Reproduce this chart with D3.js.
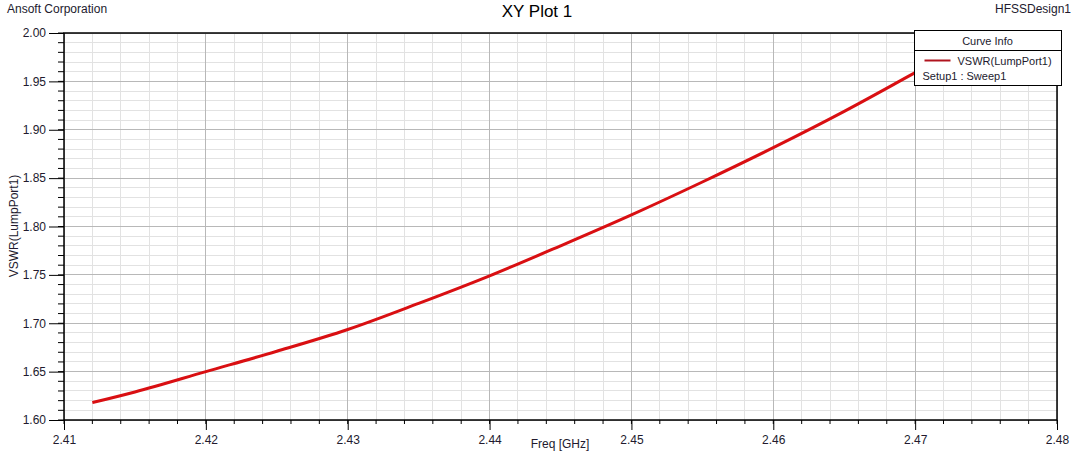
<!DOCTYPE html>
<html>
<head>
<meta charset="utf-8">
<script src="https://cdn.jsdelivr.net/npm/d3@7"></script>
<style>
  body { margin: 0; background: #fff; }
  svg { display: block; font-family: "Liberation Sans", Arial, sans-serif; }
</style>
</head>
<body>
<div id="chart"></div>
<script>
const width = 1080
const height = 457
const margin = { top: 33, right: 23, bottom: 37, left: 64 }

// data
const freq = [2.412, 2.415, 2.42, 2.425, 2.43, 2.435, 2.44, 2.445, 2.45, 2.455, 2.46, 2.465, 2.47, 2.472]
const vswr = [1.618, 1.629, 1.650, 1.671, 1.6935, 1.7205, 1.749, 1.780, 1.812, 1.846, 1.8815, 1.919, 1.959, 1.975]
const xTicks = [2.41, 2.42, 2.43, 2.44, 2.45, 2.46, 2.47, 2.48]
const yTicks = [1.60, 1.65, 1.70, 1.75, 1.80, 1.85, 1.90, 1.95, 2.00]

const svg = d3.select("#chart").append("svg").attr("width", width).attr("height", height)
const iW = width - margin.left - margin.right
const iH = height - margin.top - margin.bottom

const x = d3.scaleLinear().domain([2.41, 2.48]).range([margin.left, margin.left + iW])
const y = d3.scaleLinear().domain([1.60, 2.00]).range([margin.top + iH, margin.top])

const xMinor = d3.range(0, 36).map(i => 2.41 + i * 0.002)
const yMinor = d3.range(0, 41).map(i => 1.60 + i * 0.01)

// minor grid
const grid = svg.append("g")
grid.selectAll(".mx").data(xMinor).join("line")
    .attr("x1", d => x(d)).attr("x2", d => x(d))
    .attr("y1", margin.top).attr("y2", margin.top + iH)
    .attr("stroke", "#e2e2e2").attr("shape-rendering", "crispEdges")
grid.selectAll(".my").data(yMinor).join("line")
    .attr("y1", d => y(d)).attr("y2", d => y(d))
    .attr("x1", margin.left).attr("x2", margin.left + iW)
    .attr("stroke", "#e2e2e2").attr("shape-rendering", "crispEdges")
// major grid
grid.selectAll(".Mx").data(xTicks).join("line")
    .attr("x1", d => x(d)).attr("x2", d => x(d))
    .attr("y1", margin.top).attr("y2", margin.top + iH)
    .attr("stroke", "#b8b8b8").attr("shape-rendering", "crispEdges")
grid.selectAll(".My").data(yTicks).join("line")
    .attr("y1", d => y(d)).attr("y2", d => y(d))
    .attr("x1", margin.left).attr("x2", margin.left + iW)
    .attr("stroke", "#b8b8b8").attr("shape-rendering", "crispEdges")

// curve
const line = d3.line().x((d, i) => x(freq[i])).y(d => y(d)).curve(d3.curveMonotoneX)
svg.append("path").datum(vswr)
    .attr("d", line)
    .attr("fill", "none")
    .attr("stroke", "#d90f12")
    .attr("stroke-width", 3)

// frame
svg.append("rect")
    .attr("x", margin.left).attr("y", margin.top)
    .attr("width", iW).attr("height", iH)
    .attr("fill", "none").attr("stroke", "#000").attr("stroke-width", 1.5)

// axes
const textColor = "#221a2e"
const xAxis = svg.append("g")
    .attr("transform", `translate(0,${margin.top + iH})`)
xAxis.selectAll(".minor").data(xMinor).join("line")
    .attr("x1", d => x(d)).attr("x2", d => x(d))
    .attr("y1", 0).attr("y2", 4).attr("stroke", "#000")
xAxis.call(d3.axisBottom(x).tickValues(xTicks).tickSize(10).tickFormat(d3.format(".2f")))
xAxis.select(".domain").remove()
xAxis.selectAll(".tick text").attr("font-size", 12).attr("fill", textColor).attr("dy", "0.9em")
    .attr("font-family", "Liberation Sans, Arial, sans-serif")

const yAxis = svg.append("g")
    .attr("transform", `translate(${margin.left},0)`)
yAxis.selectAll(".minor").data(yMinor).join("line")
    .attr("y1", d => y(d)).attr("y2", d => y(d))
    .attr("x1", -6).attr("x2", 0).attr("stroke", "#000")
yAxis.call(d3.axisLeft(y).tickValues(yTicks).tickSize(15).tickPadding(3).tickFormat(d3.format(".2f")))
yAxis.select(".domain").remove()
yAxis.selectAll(".tick text").attr("font-size", 12).attr("fill", textColor)
    .attr("font-family", "Liberation Sans, Arial, sans-serif")

// titles
svg.append("text").attr("x", 537).attr("y", 17).attr("text-anchor", "middle")
    .attr("font-size", 17).attr("fill", "#000").text("XY Plot 1")
svg.append("text").attr("x", 7).attr("y", 13)
    .attr("font-size", 12).attr("fill", textColor).text("Ansoft Corporation")
svg.append("text").attr("x", 1071).attr("y", 13).attr("text-anchor", "end")
    .attr("font-size", 12).attr("fill", textColor).text("HFSSDesign1")
svg.append("text").attr("x", 560).attr("y", 448).attr("text-anchor", "middle")
    .attr("font-size", 12).attr("fill", textColor).text("Freq [GHz]")
svg.append("text").attr("transform", "translate(18,226) rotate(-90)").attr("text-anchor", "middle")
    .attr("font-size", 12).attr("fill", textColor).text("VSWR(LumpPort1)")

// legend
const lg = svg.append("g").attr("transform", "translate(914.5,30.5)")
lg.append("rect").attr("width", 147).attr("height", 55)
    .attr("fill", "#fff").attr("stroke", "#000")
lg.append("line").attr("x1", 0).attr("x2", 147).attr("y1", 20).attr("y2", 20).attr("stroke", "#000")
lg.append("text").attr("x", 73).attr("y", 14).attr("text-anchor", "middle")
    .attr("font-size", 11).attr("fill", textColor).text("Curve Info")
lg.append("line").attr("x1", 10).attr("x2", 36).attr("y1", 30).attr("y2", 30)
    .attr("stroke", "#b0141e").attr("stroke-width", 2)
lg.append("text").attr("x", 43).attr("y", 34)
    .attr("font-size", 11).attr("fill", textColor).text("VSWR(LumpPort1)")
lg.append("text").attr("x", 8).attr("y", 49)
    .attr("font-size", 11).attr("fill", textColor).text("Setup1 : Sweep1")
</script>
</body>
</html>
